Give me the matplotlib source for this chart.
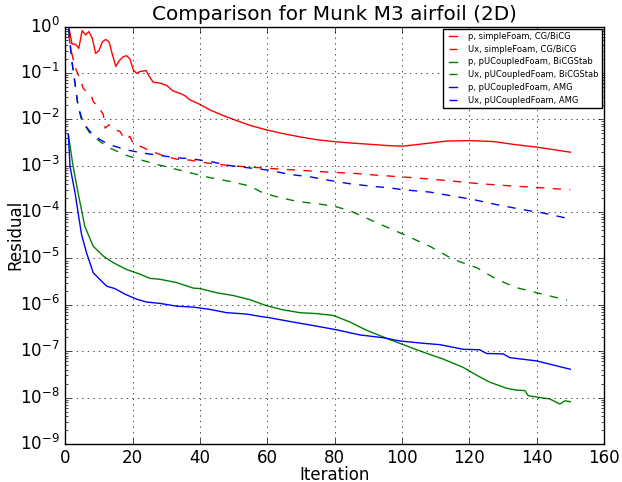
"""Residual history comparison for the Munk M3 airfoil (2D) case."""

import matplotlib

matplotlib.use("Agg")
import matplotlib.pyplot as plt
import numpy as np

# --- data (iteration, log10 residual) ---------------------------------- #
p_simple_it = [1, 2, 3, 4, 5, 6, 7, 8, 9, 10, 11, 12, 13, 14, 15, 16, 17.2,
               18.2, 19.2, 20.2, 21.2, 22.2, 24, 25, 26.1, 28.1, 30.1, 32,
               34, 35.5, 37, 40, 43, 46.9, 50.9, 54.8, 59.8, 64.7, 69.7,
               74.6, 79.6, 84.5, 90.5, 96.4, 100.4, 106.3, 113.2, 120.2,
               127.1, 134, 140, 150]
p_simple_log = [0.0, -0.38, -0.38, -0.47, -0.09, -0.18, -0.11, -0.25, -0.58,
                -0.52, -0.33, -0.28, -0.33, -0.61, -0.86, -0.74, -0.65, -0.63,
                -0.70, -0.94, -1.01, -0.97, -0.95, -1.08, -1.20, -1.22, -1.27,
                -1.39, -1.44, -1.49, -1.58, -1.68, -1.80, -1.92, -2.03, -2.13,
                -2.23, -2.31, -2.38, -2.44, -2.48, -2.51, -2.54, -2.57, -2.58,
                -2.53, -2.47, -2.46, -2.48, -2.55, -2.60, -2.71]

ux_simple_it = [1, 2, 3, 4.3, 5.3, 6.5, 7.8, 8.3, 10, 11.3, 11.8, 13, 14.7,
                16.2, 17.7, 19.2, 20.2, 22.2, 24.6, 28.1, 33, 37, 40, 43,
                48.9, 54.8, 60.7, 69.7, 78.6, 86.5, 93.4, 103.3, 113.2, 123.1,
                133, 140, 150]
ux_simple_log = [-0.2, -0.6, -0.9, -1.11, -1.33, -1.42, -1.51, -1.62, -1.75,
                 -1.90, -2.19, -2.12, -2.23, -2.26, -2.43, -2.37, -2.53, -2.58,
                 -2.66, -2.76, -2.86, -2.88, -2.92, -2.95, -3.00, -3.03, -3.06,
                 -3.10, -3.14, -3.17, -3.21, -3.26, -3.32, -3.39, -3.44, -3.47,
                 -3.52]

p_bicg_it = [0.9, 2.3, 3.8, 5.8, 8.3, 11.3, 14.2, 18.2, 22.2, 25.1, 28.1, 33,
             38, 40, 44.9, 49.9, 54.8, 59.8, 64.7, 69.7, 74.6, 79.6, 84.5,
             89.5, 96.4, 100.4, 106.3, 112.2, 118.2, 122.2, 126.1, 131.1,
             134, 136.5, 137.5, 141, 143.9, 146.9, 148.4, 150]
p_bicg_log = [-2.33, -3.01, -3.59, -4.31, -4.74, -4.95, -5.09, -5.24, -5.34,
              -5.43, -5.45, -5.52, -5.64, -5.65, -5.74, -5.80, -5.89, -6.02,
              -6.11, -6.17, -6.19, -6.23, -6.37, -6.55, -6.75, -6.86, -7.02,
              -7.17, -7.35, -7.52, -7.67, -7.80, -7.84, -7.85, -7.96, -8.00,
              -8.03, -8.14, -8.07, -8.09]

ux_bicg_it = [1, 1.9, 2.6, 3.8, 4.8, 7.3, 10.3, 13.2, 18.2, 23.1, 28.1, 33,
              38, 43, 48.9, 54.8, 58.8, 62.8, 68.7, 74.6, 79.6, 84.5, 92.5,
              100.4, 108.3, 115.2, 122.2, 128.1, 134, 140, 149]
ux_bicg_log = [-0.05, -0.72, -1.08, -1.72, -2.01, -2.30, -2.48, -2.62,
               -2.78, -2.89, -2.99, -3.08, -3.17, -3.26, -3.34, -3.44, -3.59,
               -3.67, -3.77, -3.82, -3.87, -3.97, -4.23, -4.48, -4.74, -5.02,
               -5.20, -5.45, -5.63, -5.74, -5.90]

p_amg_it = [0.9, 1.4, 2.9, 4.8, 6.3, 8.3, 9.8, 12.3, 14.7, 17.7, 21.2, 24.1,
            28.1, 33.1, 38, 43, 47.9, 53.9, 57.8, 60.7, 66.7, 74.6, 80.6,
            87.5, 94.4, 99.4, 106.3, 111.3, 118.2, 123.1, 125.1, 130.1, 132,
            140, 150]
p_amg_log = [-2.33, -3.02, -3.59, -4.48, -4.88, -5.31, -5.42, -5.60, -5.65,
             -5.77, -5.88, -5.94, -5.97, -6.03, -6.05, -6.10, -6.17, -6.20,
             -6.25, -6.28, -6.36, -6.46, -6.54, -6.65, -6.71, -6.78, -6.83,
             -6.86, -6.96, -6.97, -7.05, -7.06, -7.14, -7.21, -7.39]

ux_amg_it = [1, 1.9, 2.6, 3.8, 5.3, 7.3, 10.3, 13.2, 18.2, 23.1, 28.1, 33,
             37, 43, 48.9, 54.8, 60.7, 66.7, 72.6, 78.6, 84.5, 90.5, 96.4,
             100.4, 108.3, 116.2, 121.1, 128.1, 136, 141.9, 150]
ux_amg_log = [-0.05, -0.72, -1.08, -1.72, -2.08, -2.26, -2.44, -2.55, -2.66,
              -2.73, -2.78, -2.83, -2.85, -2.91, -3.00, -3.05, -3.10, -3.19,
              -3.24, -3.32, -3.39, -3.44, -3.48, -3.52, -3.57, -3.67, -3.73,
              -3.84, -3.95, -4.02, -4.15]

labels = ["p, simpleFoam, CG/BiCG", "Ux, simpleFoam, CG/BiCG",
          "p, pUCoupledFoam, BiCGStab", "Ux, pUCoupledFoam, BiCGStab",
          "p, pUCoupledFoam, AMG", "Ux, pUCoupledFoam, AMG"]

plt.style.use("classic")

fig = plt.figure(figsize=(6.22, 4.82), dpi=100, facecolor="white")
ax = fig.add_axes([0.105, 0.079, 0.866, 0.866])

series = [
    (p_simple_it, p_simple_log, "r", "-"),
    (ux_simple_it, ux_simple_log, "r", "--"),
    (p_bicg_it, p_bicg_log, "g", "-"),
    (ux_bicg_it, ux_bicg_log, "g", "--"),
    (p_amg_it, p_amg_log, "b", "-"),
    (ux_amg_it, ux_amg_log, "b", "--"),
]
for (it, lg, col, ls), lab in zip(series, labels):
    ax.semilogy(it, 10.0 ** np.array(lg), color=col, linestyle=ls, label=lab)

ax.set_xlim(0, 160)
ax.set_ylim(1e-9, 1)
ax.grid(True)
ax.set_title("Comparison for Munk M3 airfoil (2D)")
ax.set_xlabel("Iteration", labelpad=-1)
ax.set_ylabel("Residual", labelpad=-3)
ax.legend(loc="upper right", fontsize=6, handlelength=1.55,
          handletextpad=1.0, labelspacing=0.45, borderaxespad=0.25)

fig.savefig("out.png", dpi=100, facecolor="white")
